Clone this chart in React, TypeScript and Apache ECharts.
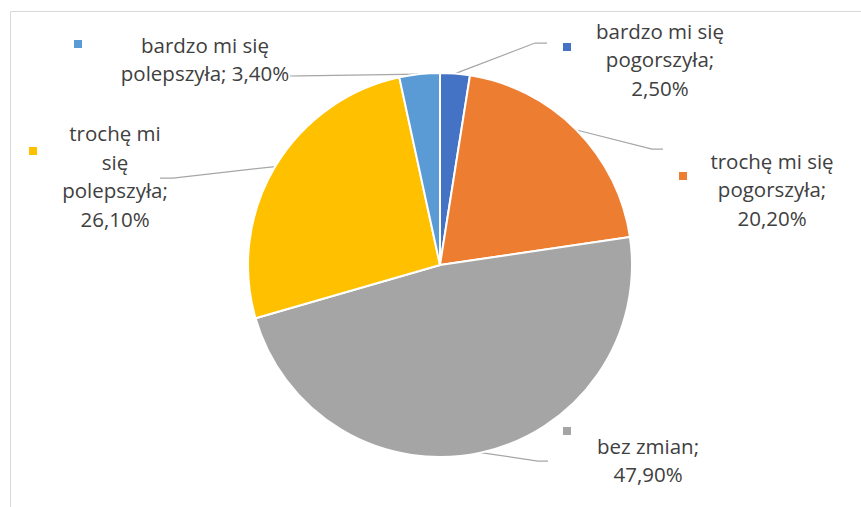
import React, { useEffect, useRef } from "react";
import * as echarts from "echarts";

const categories = [
  "bardzo mi się pogorszyła",
  "trochę mi się pogorszyła",
  "bez zmian",
  "trochę mi się polepszyła",
  "bardzo mi się polepszyła",
];
const values = [2.5, 20.2, 47.9, 26.1, 3.4];
const colors = ["#4472C4", "#ED7D31", "#A5A5A5", "#FFC000", "#5B9BD5"];

// layout (label centres, words per wrapped line, leader knees, legend keys)
const labelCenters = [
  [660, 59],
  [772, 189],
  [648, 460],
  [115, 176],
  [205, 59],
];
const wordsPerLine = [
  [3, 1, 1],
  [3, 1, 1],
  [2, 1],
  [2, 1, 1, 1],
  [3, 2],
];
const leaderKnees = [
  [[535, 43], [547, 43]],
  [[652, 149], [663, 149]],
  [[538, 461], [548, 461]],
  [[173, 178], [160, 178]],
  [[300, 75.8], [290, 76]],
];
const keyCenters = [
  [567, 47],
  [683, 176],
  [567, 431],
  [33, 151],
  [78, 44],
];

const fmt = (v: number) => v.toFixed(2).replace(".", ",") + "%";

const wrap = (text: string, counts: number[]) => {
  const words = text.split(" ");
  const lines: string[] = [];
  let k = 0;
  counts.forEach((c) => {
    lines.push(words.slice(k, k + c).join(" "));
    k += c;
  });
  if (k < words.length) lines.push(words.slice(k).join(" "));
  return lines.join("\n");
};

export default function App() {
  const ref = useRef<HTMLDivElement>(null);
  useEffect(() => {
    if (!ref.current) return;
    const chart = echarts.init(ref.current, undefined, { renderer: "svg" });
    const font = "'Open Sans', 'Noto Sans', sans-serif";
    chart.setOption({
      animation: false,
      backgroundColor: "#ffffff",
      graphic: [
        {
          type: "rect",
          shape: { x: 10.5, y: 11.5, width: 900, height: 600 },
          style: { fill: "none", stroke: "#D9D9D9", lineWidth: 1 },
          silent: true,
        },
        ...keyCenters.map((c, i) => ({
          type: "rect",
          shape: { x: c[0] - 4, y: c[1] - 4, width: 8, height: 8 },
          style: { fill: colors[i] },
          silent: true,
        })),
      ],
      series: [
        {
          type: "pie",
          center: [440, 265],
          radius: 192,
          startAngle: 90,
          clockwise: true,
          avoidLabelOverlap: false,
          itemStyle: { borderColor: "#ffffff", borderWidth: 2 },
          data: categories.map((name, i) => ({
            name,
            value: values[i],
            itemStyle: { color: colors[i] },
          })),
          label: {
            show: true,
            position: "outside",
            formatter: (p: any) =>
              wrap(`${p.name}; ${fmt(p.value)}`, wordsPerLine[p.dataIndex]),
            fontFamily: font,
            fontSize: 20.5,
            lineHeight: 28.5,
            color: "#404040",
            align: "center",
          },
          labelLine: {
            show: true,
            lineStyle: { color: "#A6A6A6", width: 1.25 },
          },
          labelLayout: (params: any) => {
            const i = params.dataIndex;
            const start = params.labelLinePoints
              ? params.labelLinePoints[0]
              : [440, 265];
            return {
              x: labelCenters[i][0],
              y: labelCenters[i][1],
              align: "center",
              verticalAlign: "middle",
              labelLinePoints: [start, leaderKnees[i][0], leaderKnees[i][1]],
            };
          },
        },
      ],
    });
    return () => chart.dispose();
  }, []);
  return (
    <div
      ref={ref}
      style={{ position: "fixed", left: 0, top: 0, width: 861, height: 507 }}
    />
  );
}
